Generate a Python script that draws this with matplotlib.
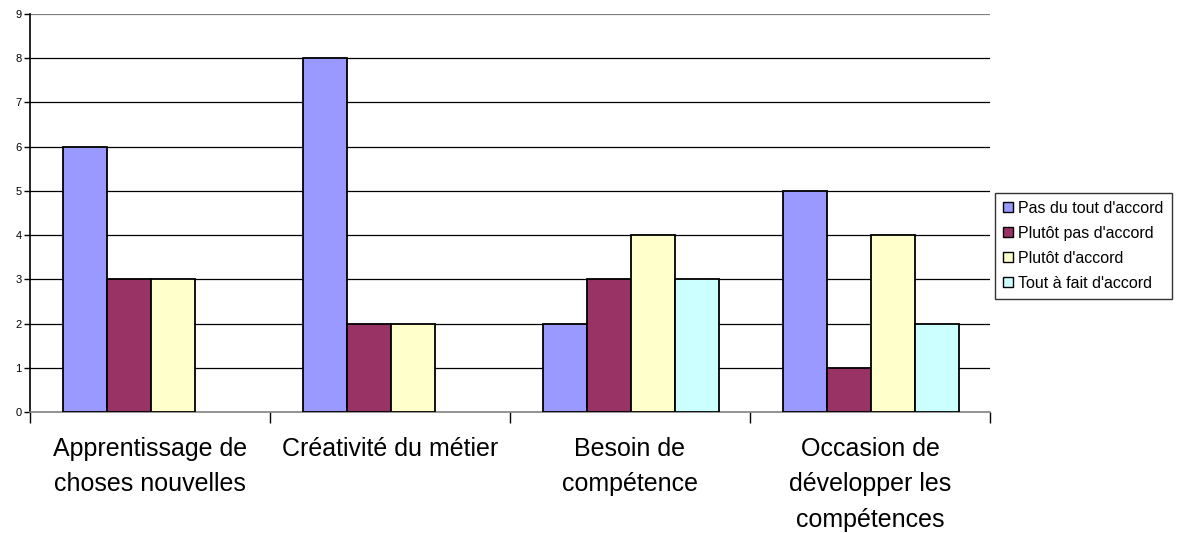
import numpy as np
import matplotlib
matplotlib.use("Agg")
import matplotlib.pyplot as plt
from matplotlib.patches import Patch

plt.rcParams['font.family'] = ['Liberation Sans', 'DejaVu Sans']

categories = ["Apprentissage de\nchoses nouvelles", "Créativité du métier",
              "Besoin de\ncompétence", "Occasion de\ndévelopper les\ncompétences"]
series = ["Pas du tout d'accord", "Plutôt pas d'accord", "Plutôt d'accord", "Tout à fait d'accord"]
values = [
    [6, 8, 2, 5],
    [3, 2, 3, 1],
    [3, 2, 4, 4],
    [0, 0, 3, 2],
]
colors = ["#9999ff", "#993366", "#ffffcc", "#ccffff"]

fig = plt.figure(figsize=(11.79, 5.33), dpi=100)
ax = fig.add_axes([30/1179, (533-412)/533, 960/1179, 398/533])

bw = 44/240
start = 33/240
x = np.arange(len(categories))
for i, (name, vals) in enumerate(zip(series, values)):
    v = np.array(vals, dtype=float)
    v[v == 0] = np.nan
    ax.bar(x + start + i*bw, v, width=bw, align='edge', color=colors[i],
           edgecolor='black', linewidth=1.3, zorder=3)

ax.set_xlim(0, 4)
ax.set_ylim(0, 9)
ax.set_yticks(range(10))
ax.tick_params(axis='y', labelsize=8, length=4, width=1, pad=2)
for y in range(1, 10):
    ax.axhline(y, color='black' if y < 9 else '#808080', linewidth=0.9, zorder=1)

ax.set_xticks(np.arange(5))
ax.set_xticklabels([])
ax.tick_params(axis='x', length=8, width=1)
ax.set_xticks(x + 0.5, minor=True)
ax.set_xticklabels(categories, minor=True, fontsize=18, linespacing=1.6, va='top')
ax.tick_params(axis='x', which='minor', length=0, pad=18)

for s in ['top', 'right']:
    ax.spines[s].set_visible(False)
ax.spines['left'].set_linewidth(1.2)
ax.spines['bottom'].set_color('#808080')
ax.spines['bottom'].set_linewidth(1.2)

handles = [Patch(facecolor=c, edgecolor='black', linewidth=1) for c in colors]
leg = fig.legend(handles, series, loc='upper left', bbox_to_anchor=(995/1179, 1-193/533),
                 fontsize=11.5, frameon=True, fancybox=False, edgecolor='black',
                 handlelength=0.6, handleheight=0.6, handletextpad=0.35,
                 labelspacing=0.62, borderpad=0.5, borderaxespad=0)
leg.get_frame().set_linewidth(1)

fig.savefig("out.png", dpi=100)
